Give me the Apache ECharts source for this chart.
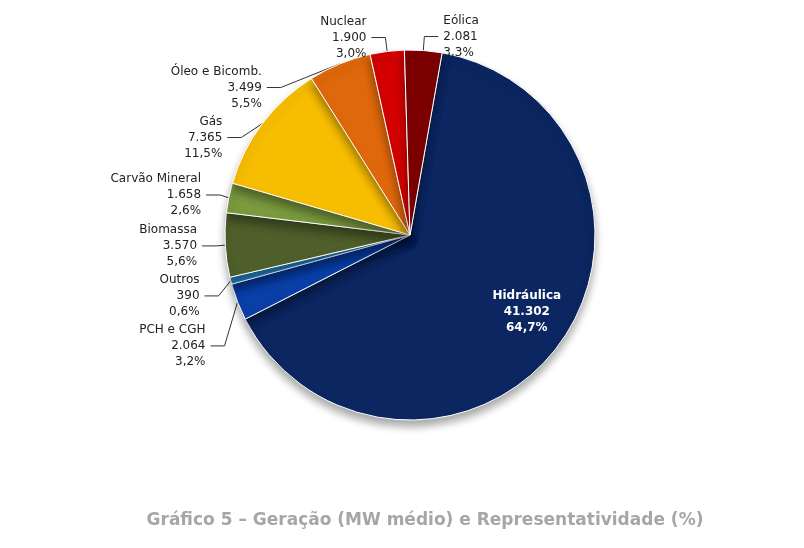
<!DOCTYPE html>
<html><head><meta charset="utf-8">
<script src="https://cdn.jsdelivr.net/npm/echarts@6/dist/echarts.min.js"></script>
<style>html,body{margin:0;background:#fff}#c{width:804px;height:548px}</style>
</head><body><div id="c"></div>
<script>
const categories = ['Hidráulica','PCH e CGH','Outros','Biomassa','Carvão Mineral','Gás','Óleo e Bicomb.','Nuclear','Eólica'];
const values = [41302,2064,390,3570,1658,7365,3499,1900,2081];
const percents = ['64,7%','3,2%','0,6%','5,6%','2,6%','11,5%','5,5%','3,0%','3,3%'];
const colors = ['#0b2660','#0a3fa8','#1f86c8','#4e5f2b','#7a9a3e','#f7bd00','#e0680c','#d40000','#7d0000'];
const fmt = v => v.toString().replace(/\B(?=(\d{3})+(?!\d))/g,'.');
const data = categories.map((n,i)=>({name:n,value:values[i],pct:percents[i],
  itemStyle:{color:colors[i]},
  label: i===0?{position:'inside',color:'#fff',fontSize:12,fontWeight:'bold',offset:[40,20]}:undefined,
  labelLine: i===0?{show:false}:undefined}));
const chart = echarts.init(document.getElementById('c'));
chart.setOption({
  title:{text:'Gráfico 5 – Geração (MW médio) e Representatividade (%)',left:420,bottom:14,textAlign:'center',
    textStyle:{color:'#a6a6a6',fontSize:17,fontWeight:'bold',fontFamily:'DejaVu Sans'}},
  series:[{type:'pie',center:[410,235],radius:[0,185],startAngle:80,clockwise:true,
    data:data,
    itemStyle:{borderColor:'#fff',borderWidth:1,shadowBlur:8,shadowColor:'rgba(0,0,0,0.35)',shadowOffsetY:6},
    label:{formatter:p=>p.name+'\n'+fmt(p.value)+'\n'+p.data.pct,color:'#222',fontSize:12,lineHeight:16,
      fontFamily:'DejaVu Sans',align:'center'},
    labelLine:{length:14,length2:14,lineStyle:{color:'#333'}}
  }]
});
</script></body></html>
